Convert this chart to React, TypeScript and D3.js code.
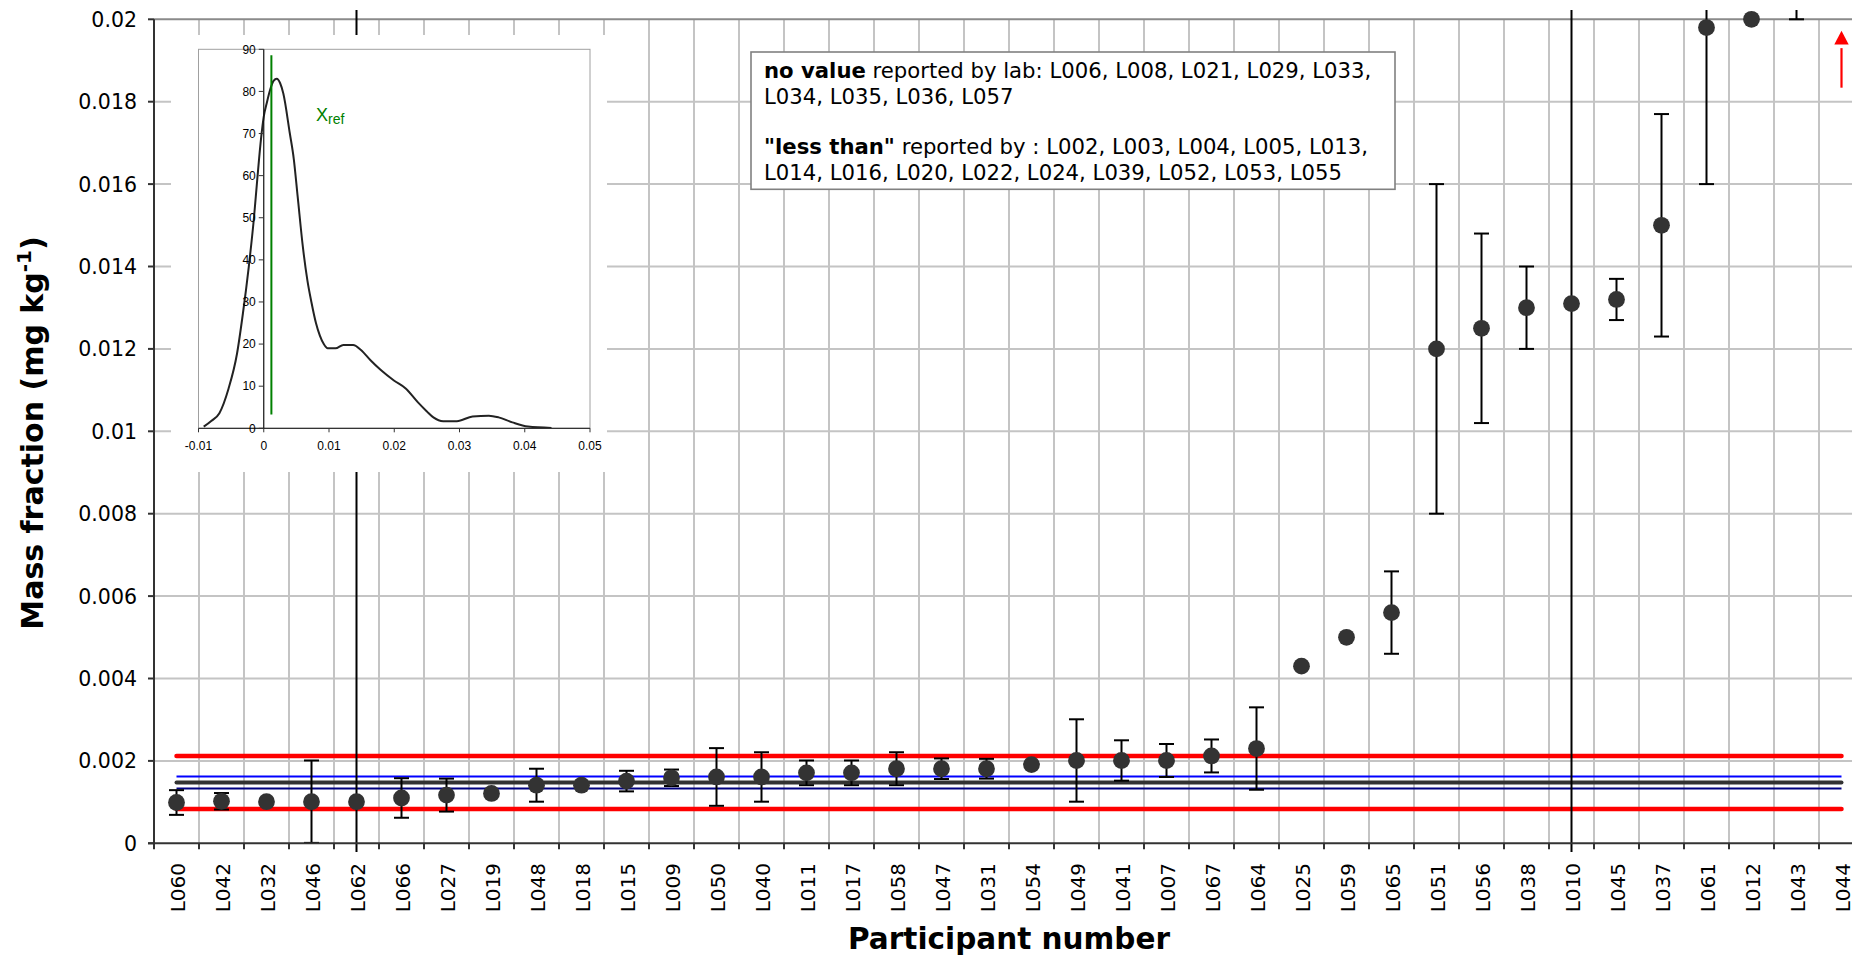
import React from "react";
import * as d3 from "d3";

// ---------------- data ----------------
const participants = [
  "L060", "L042", "L032", "L046", "L062", "L066", "L027", "L019", "L048", "L018",
  "L015", "L009", "L050", "L040", "L011", "L017", "L058", "L047", "L031", "L054",
  "L049", "L041", "L007", "L067", "L064", "L025", "L059", "L065", "L051", "L056",
  "L038", "L010", "L045", "L037", "L061", "L012", "L043", "L044",
];
const values = [
  0.00099, 0.00102, 0.00101, 0.00101, 0.00101, 0.0011, 0.00117, 0.00121, 0.00141, 0.00141,
  0.00151, 0.00159, 0.00161, 0.00161, 0.00171, 0.00171, 0.00181, 0.00181, 0.00181, 0.00191,
  0.00201, 0.00201, 0.00201, 0.00212, 0.0023, 0.0043, 0.005, 0.0056, 0.012, 0.0125,
  0.013, 0.0131, 0.0132, 0.015, 0.0198, 0.02, 0.0235, 0.035,
];
const uncertainties = [
  0.0003, 0.0002, 0, 0.001, 0.04, 0.00048, 0.0004, 0, 0.0004, 0,
  0.00025, 0.0002, 0.0007, 0.0006, 0.0003, 0.0003, 0.0004, 0.00025, 0.00024, 0,
  0.001, 0.00049, 0.0004, 0.0004, 0.001, 0, 0, 0.001, 0.004, 0.0023,
  0.001, 0.04, 0.0005, 0.0027, 0.0038, 0, 0.0035, 0,
];
const offScaleLabs = ["L044"];
const arrowFrom = 0.01834;
const arrowTo = 0.01972;

const assignedValue = 0.001475;
const uLimits = [0.00133, 0.00162];
const sigmaLimits = [0.00083, 0.00212];

const yTickValues = [0, 0.002, 0.004, 0.006, 0.008, 0.01, 0.012, 0.014, 0.016, 0.018, 0.02];

// inset kernel density
const densityX = [
  -0.0092, -0.008, -0.0068, -0.0054, -0.0041, -0.0032, -0.0023, -0.0015, -0.001, -0.0004,
  0, 0.0005, 0.001, 0.0015, 0.002, 0.0025, 0.003, 0.004, 0.0046, 0.0052,
  0.006, 0.0067, 0.0073, 0.008, 0.0086, 0.0092, 0.0098, 0.011, 0.0122, 0.0137,
  0.0149, 0.0164, 0.0179, 0.02, 0.0218, 0.0236, 0.025, 0.026, 0.0275, 0.0296,
  0.032, 0.0345, 0.036, 0.0381, 0.0405, 0.0441,
];
const densityY = [
  0.4, 1.8, 3.6, 9.4, 17.7, 27.2, 38.3, 50, 59, 69,
  74, 77.5, 80.5, 82.5, 83, 82, 79.5, 70, 64, 55,
  43, 35, 30, 25, 22, 20, 19, 19, 19.8, 19.8,
  18.6, 16.1, 13.9, 11.3, 9.4, 6.2, 4, 2.6, 1.7, 1.7,
  2.8, 3.0, 2.6, 1.4, 0.4, 0.1,
];
const xRef = 0.00117;
const insetXTicks = [-0.01, 0, 0.01, 0.02, 0.03, 0.04, 0.05];
const insetYTicks = [0, 10, 20, 30, 40, 50, 60, 70, 80, 90];

const noValueLabs = "L006, L008, L021, L029, L033,";
const noValueLabs2 = "L034, L035, L036, L057";
const lessThanLabs = "L002, L003, L004, L005, L013,";
const lessThanLabs2 = "L014, L016, L020, L022, L024, L039, L052, L053, L055";

// ---------------- chart ----------------
const W = 1852;
const H = 956;
const FONT = "'DejaVu Sans', Verdana, sans-serif";
const IFONT = "'Liberation Sans', Arial, sans-serif";

export default function App() {
  const x = d3
    .scaleBand<string>()
    .domain(participants)
    .range([154, 154 + participants.length * 45.0])
    .padding(0);
  const y = d3.scaleLinear().domain([0, 0.02]).range([843.3, 19.3]);
  const bw = x.bandwidth();
  const cx = (p: string) => (x(p) as number) + bw / 2;
  const xFirst = cx(participants[0]);
  const xLast = cx(participants[participants.length - 1]);
  const plotRight = x.range()[1];

  const ix = d3.scaleLinear().domain([-0.01, 0.05]).range([198.5, 590]);
  const iy = d3.scaleLinear().domain([0, 90]).range([428.3, 49.3]);
  const densLine = d3
    .line<number>()
    .x((_, i) => ix(densityX[i]))
    .y((d) => iy(d))
    .curve(d3.curveMonotoneX);

  const fmtY = (v: number) => String(+v.toFixed(3));
  const boundaries = d3.range(participants.length + 1).map((i) => 154 + i * bw);

  return (
    <svg
      width={W}
      height={H}
      style={{ position: "absolute", left: 0, top: 0, background: "#fff" }}
    >
      <defs>
        <clipPath id="dataClip">
          <rect x={154} y={10} width={W - 154} height={852 - 10} />
        </clipPath>
      </defs>
      <rect x={0} y={0} width={W} height={H} fill="#fff" />

      {/* horizontal gridlines */}
      {yTickValues.slice(1, -1).map((v) => (
        <line key={"hg" + v} x1={154} x2={plotRight} y1={y(v)} y2={y(v)} stroke="#c4c4c4" strokeWidth={2} />
      ))}
      {/* vertical gridlines */}
      {boundaries.slice(1).map((b, i) => (
        <line key={"vg" + i} x1={b} x2={b} y1={y(0.02)} y2={y(0)} stroke="#c4c4c4" strokeWidth={2} />
      ))}
      {/* top border */}
      <line x1={154} x2={plotRight} y1={y(0.02)} y2={y(0.02)} stroke="#8a8a8a" strokeWidth={2} />

      {/* reference lines */}
      <g>
        <line x1={xFirst} x2={xLast} y1={y(sigmaLimits[1])} y2={y(sigmaLimits[1])} stroke="#ff0000" strokeWidth={4.5} strokeLinecap="round" />
        <line x1={xFirst} x2={xLast} y1={y(sigmaLimits[0])} y2={y(sigmaLimits[0])} stroke="#ff0000" strokeWidth={4.5} strokeLinecap="round" />
        <line x1={xFirst} x2={xLast} y1={y(uLimits[1])} y2={y(uLimits[1])} stroke="#0000ff" strokeWidth={2} />
        <line x1={xFirst} x2={xLast} y1={y(uLimits[0])} y2={y(uLimits[0])} stroke="#000080" strokeWidth={2} />
        <line x1={xFirst} x2={xLast} y1={y(assignedValue)} y2={y(assignedValue)} stroke="#333333" strokeWidth={4} strokeLinecap="round" />
      </g>

      {/* error bars and points */}
      <g clipPath="url(#dataClip)">
        {participants.map((p, i) => {
          const u = uncertainties[i];
          if (!u) return null;
          const c = cx(p);
          const lo = y(values[i] - u);
          const hi = y(values[i] + u);
          return (
            <g key={"eb" + p} stroke="#000" strokeWidth={2}>
              <line x1={c} x2={c} y1={lo} y2={hi} />
              <line x1={c - 7.5} x2={c + 7.5} y1={lo} y2={lo} />
              <line x1={c - 7.5} x2={c + 7.5} y1={hi} y2={hi} />
            </g>
          );
        })}
        {participants.map((p, i) => (
          <circle key={"pt" + p} cx={cx(p)} cy={y(values[i])} r={8.4} fill="#333333" />
        ))}
      </g>

      {/* off-scale arrow */}
      {offScaleLabs.map((p) => {
        const c = cx(p);
        return (
          <g key={"ar" + p} fill="#ff0000" stroke="#ff0000">
            <line x1={c} x2={c} y1={y(arrowFrom)} y2={y(0.0193)} strokeWidth={2.2} />
            <polygon
              points={`${c},${y(arrowTo)} ${c - 7.2},${y(0.01939)} ${c + 7.2},${y(0.01939)}`}
              stroke="none"
            />
          </g>
        );
      })}

      {/* axes */}
      <line x1={154} x2={154} y1={y(0.02)} y2={y(0) + 1} stroke="#333" strokeWidth={2} />
      <line x1={148} x2={plotRight} y1={y(0)} y2={y(0)} stroke="#333" strokeWidth={2} />
      {yTickValues.map((v) => (
        <g key={"yt" + v}>
          <line x1={148} x2={154} y1={y(v)} y2={y(v)} stroke="#333" strokeWidth={2} />
          <text
            x={137}
            y={y(v) + 7.4}
            textAnchor="end"
            fontFamily={FONT}
            fontSize={20.5}
            fill="#000"
          >
            {fmtY(v)}
          </text>
        </g>
      ))}
      {boundaries.map((b, i) => (
        <line key={"xt" + i} x1={b} x2={b} y1={y(0)} y2={y(0) + 6} stroke="#333" strokeWidth={2} />
      ))}
      {participants.map((p) => (
        <text
          key={"xl" + p}
          transform={`translate(${cx(p) + 8.5},863) rotate(-90)`}
          textAnchor="end"
          fontFamily={FONT}
          fontSize={20}
          fill="#000"
        >
          {p}
        </text>
      ))}

      {/* axis titles */}
      <text
        x={(154 + plotRight) / 2}
        y={949}
        textAnchor="middle"
        fontFamily={FONT}
        fontWeight="bold"
        fontSize={29.5}
        fill="#000"
      >
        Participant number
      </text>
      <text
        transform="translate(43,433) rotate(-90)"
        textAnchor="middle"
        fontFamily={FONT}
        fontWeight="bold"
        fontSize={30}
        fill="#000"
      >
        Mass fraction (mg kg
        <tspan dy={-12} fontSize={20}>-1</tspan>
        <tspan dy={12}>)</tspan>
      </text>

      {/* inset kernel density plot */}
      <g>
        <rect x={171} y={35} width={607 - 171} height={472 - 35} fill="#fff" />
        <rect
          x={ix(-0.01)}
          y={iy(90)}
          width={ix(0.05) - ix(-0.01)}
          height={iy(0) - iy(90)}
          fill="#fff"
          stroke="#a0a0a0"
          strokeWidth={1}
        />
        <path d={densLine(densityY) || ""} fill="none" stroke="#222" strokeWidth={2} strokeLinejoin="round" />
        <line x1={ix(xRef)} x2={ix(xRef)} y1={iy(88.6)} y2={iy(3.3)} stroke="#008000" strokeWidth={2} />
        <line x1={ix(-0.01)} x2={ix(0.05)} y1={iy(0)} y2={iy(0)} stroke="#333" strokeWidth={1.2} />
        <line x1={ix(0)} x2={ix(0)} y1={iy(0)} y2={iy(90)} stroke="#111" strokeWidth={1.2} />
        {insetXTicks.map((v) => (
          <g key={"ixt" + v}>
            <line x1={ix(v)} x2={ix(v)} y1={iy(0)} y2={iy(0) + 4} stroke="#333" strokeWidth={1} />
            <text x={ix(v)} y={iy(0) + 22} textAnchor="middle" fontFamily={IFONT} fontSize={12} fill="#000">
              {v === 0 ? "0" : String(v)}
            </text>
          </g>
        ))}
        {insetYTicks.map((v) => (
          <g key={"iyt" + v}>
            <line x1={ix(0) - 5} x2={ix(0)} y1={iy(v)} y2={iy(v)} stroke="#333" strokeWidth={1} />
            <text x={ix(0) - 8} y={iy(v) + 4.3} textAnchor="end" fontFamily={IFONT} fontSize={12} fill="#000">
              {v}
            </text>
          </g>
        ))}
        <text x={316} y={120.7} fontFamily={IFONT} fontSize={18} fill="#008000">
          X<tspan dy={3.5} fontSize={14}>ref</tspan>
        </text>
      </g>

      {/* note box */}
      <g fontFamily={FONT} fontSize={21.2} fill="#000">
        <rect x={751} y={52} width={1395 - 751} height={189.3 - 52} fill="#fff" stroke="#808080" strokeWidth={1.6} />
        <text x={764} y={78}>
          <tspan fontWeight="bold">no value</tspan> reported by lab: {noValueLabs}
        </text>
        <text x={764} y={103.5}>{noValueLabs2}</text>
        <text x={764} y={154}>
          <tspan fontWeight="bold">"less than"</tspan> reported by : {lessThanLabs}
        </text>
        <text x={764} y={179.5}>{lessThanLabs2}</text>
      </g>
    </svg>
  );
}
